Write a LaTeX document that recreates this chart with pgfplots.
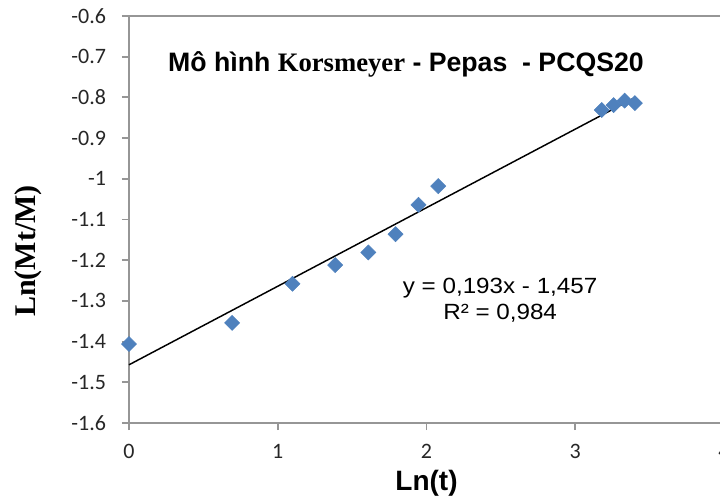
\documentclass[border=0pt]{standalone}
\usepackage{fontspec}
\usepackage{pgfplots}
\pgfplotsset{compat=1.18}
\newfontfamily\arial{Liberation Sans}
\newfontfamily\arialwide[FakeStretch=1.1]{Liberation Sans}
\newfontfamily\tnr{Liberation Serif}
\newfontfamily\calibri{Carlito}
\definecolor{MarkBlue}{RGB}{79,129,189}
\definecolor{AxGray}{RGB}{150,150,150}

\begin{document}
\begin{tikzpicture}
\begin{axis}[
    name=ax,
    scale only axis,
    width=446.25pt, height=305.25pt,
    xmin=0, xmax=4, ymin=-1.6, ymax=-0.6,
    xtick={0,1,2,3,4},
    ytick={-1.6,-1.5,-1.4,-1.3,-1.2,-1.1,-1,-0.9,-0.8,-0.7,-0.6},
    yticklabels={-1.6,-1.5,-1.4,-1.3,-1.2,-1.1,-1,-0.9,-0.8,-0.7,-0.6},
    xticklabels={0,1,2,3,4},
    tick align=outside,
    major tick length=5.25pt,
    xtick pos=bottom, ytick pos=left,
    axis line style={AxGray, line width=1.4pt},
    tick style={AxGray, line width=1.4pt},
    ticklabel style={font=\calibri\fontsize{16.5}{18}\selectfont, text=black!85},
    yticklabel style={xshift=-8.5pt},
    xticklabel style={yshift=-7pt},
    xlabel={Ln(t)},
    ylabel={Ln(Mt/M)},
    xlabel style={font=\arial\bfseries\fontsize{21}{24}\selectfont, at={(rel axis cs:0.5,-0.1474)}, anchor=center},
    ylabel style={font=\tnr\bfseries\fontsize{22.5}{25}\selectfont, at={(rel axis cs:-0.1697,0.4226)}, anchor=center},
    clip=false,
]
\addplot[black, line width=1.1pt] coordinates {(0,-1.457) (3.401,-0.8006)};
\addplot[only marks, mark=square*, mark size=4pt, mark options={rotate=45, fill=MarkBlue, draw=MarkBlue}] coordinates {
    (0,-1.406)
    (0.693,-1.354)
    (1.099,-1.258)
    (1.386,-1.212)
    (1.609,-1.181)
    (1.792,-1.136)
    (1.946,-1.064)
    (2.079,-1.018)
    (3.178,-0.831)
    (3.258,-0.819)
    (3.332,-0.808)
    (3.401,-0.814)
};
\node[anchor=center, inner sep=0pt] at (rel axis cs:0.4655,0.882)
    {{\arial\bfseries\fontsize{20}{23}\selectfont Mô hình }{\tnr\bfseries\fontsize{20}{23}\selectfont Korsmeyer}{\arial\bfseries\fontsize{20}{23}\selectfont{} - Pepas\ \ - PCQS20}};
\node[anchor=center, align=center, inner sep=0pt, font=\arialwide\fontsize{16.5}{19.5}\selectfont] at (axis cs:2.495,-1.298)
    {y = 0,193x - 1,457\\R² = 0,984};
\end{axis}
\pgfresetboundingbox
\path ([xshift=-96.75pt,yshift=-60pt]ax.south west) rectangle ([xshift=-3pt,yshift=12pt]ax.north east);
\end{tikzpicture}
\end{document}
